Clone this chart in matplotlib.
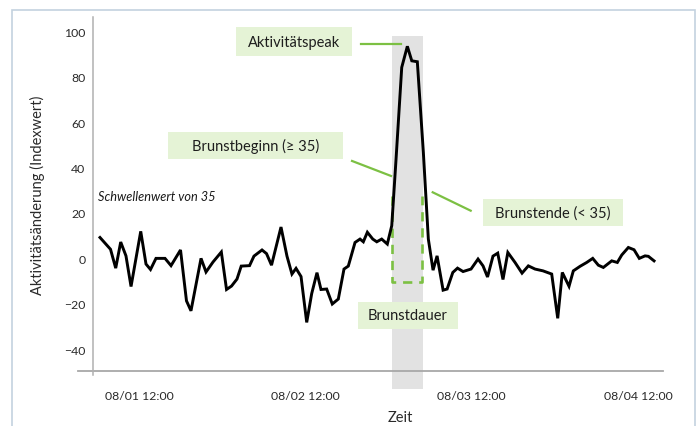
import matplotlib
matplotlib.use("Agg")
import matplotlib.pyplot as plt
from matplotlib.patches import Rectangle
from matplotlib.lines import Line2D

plt.rcParams['font.family'] = ['Lato', 'DejaVu Sans']

# Zeit in Stunden ab 08/01 00:00, Aktivitätsänderung (Indexwert)
hours = [6.37, 7.89, 8.64, 9.36, 10.12, 10.85, 12.25, 13.01, 13.66, 14.45, 15.75, 16.62,
         17.99, 18.85, 19.50, 20.95, 21.67, 22.68, 23.88, 24.63, 25.35, 26.14, 26.75, 27.95,
         28.59, 29.75, 30.40, 31.12, 32.49, 33.35, 34.07, 34.66, 35.38, 36.20, 36.92, 37.68,
         38.26, 39.08, 39.89, 40.76, 41.58, 42.20, 43.17, 43.89, 44.37, 44.95, 45.73, 46.31,
         47.02, 47.83, 48.47, 49.09, 49.91, 50.72, 51.36, 52.16, 53.03, 53.75, 54.43, 55.01,
         55.88, 56.46, 57.28, 57.96, 58.76, 59.91, 60.92, 61.64, 62.29, 63.08, 63.76, 64.52,
         65.22, 66.26, 67.27, 68.18, 69.14, 70.30, 71.55, 72.42, 73.08, 74.05, 74.67, 75.64,
         76.60, 77.47, 78.28, 79.00, 80.21, 81.02, 81.66, 82.61, 83.43, 84.19, 85.02, 85.50,
         86.32]
values = [9.2, 4.0, -4.3, 7.2, 1.1, -12.4, 11.9, -2.5, -4.9, 0.0, 0.0, -3.2,
          3.7, -18.7, -23.1, 0.0, -6.0, -1.6, 2.8, -13.7, -12.2, -9.1, -3.4, -3.2,
          1.0, 3.7, 2.1, -3.0, 13.8, 1.0, -6.9, -4.4, -8.0, -28.2, -15.5, -6.3,
          -13.7, -13.5, -20.1, -17.9, -4.7, -3.4, 7.0, 8.5, 7.3, 11.5, 8.5, 7.3,
          8.5, 6.3, 14.4, 43.7, 84.1, 93.4, 87.0, 86.6, 46.7, 8.5, -5.2, 1.1,
          -14.0, -13.5, -6.2, -4.3, -5.8, -4.7, -0.3, -3.3, -8.2, 1.0, 2.3, -9.3,
          2.6, -1.8, -6.5, -3.3, -4.7, -5.5, -6.9, -26.4, -6.2, -12.3, -5.5, -3.5,
          -1.8, 0.0, -3.0, -4.0, -1.1, -1.8, 1.5, 4.8, 3.8, 0.0, 1.1, 0.9,
          -1.1]

tick_hours = [12, 36, 60, 84]
tick_labels = ['08/01 12:00', '08/02 12:00', '08/03 12:00', '08/04 12:00']
y_ticks = [-40, -20, 0, 20, 40, 60, 80, 100]

# Brunst
brunst_start = 48.47
brunst_end = 53.03
schwelle = 27.5

green = '#7cc043'
boxcol = '#e5f3d6'
txtcol = '#1e1e1e'
axcol = '#2a2a2a'

W, H = 699, 427
fig = plt.figure(figsize=(W / 100, H / 100), dpi=100)

def fx(px):
    return px / W

def fy(py):
    return 1 - py / H

# Rahmen
fig.patches.append(Rectangle((fx(12), fy(440)), fx(695) - fx(12), fy(11) - fy(440),
                             transform=fig.transFigure, fill=False, ec='#c3d2df', lw=1.2))

ax = fig.add_axes([fx(92.5), fy(372), fx(663) - fx(92.5), fy(18) - fy(372)])
ax.set_xlim(5.29, 87.61)
ax.set_ylim(-49.6, 106.3)
for s in ax.spines.values():
    s.set_visible(False)

# Achsenlinien
ax.add_line(Line2D([-14.5 / 570.5, 1], [0, 0], transform=ax.transAxes, color='#a8a8a8',
                   lw=1.3, clip_on=False))
ax.add_line(Line2D([0, 0], [-4 / 354, 1], transform=ax.transAxes, color='#b0b0b0',
                   lw=1.1, clip_on=False))

# grauer Bereich
ax.add_patch(Rectangle((brunst_start, -57.5), brunst_end - brunst_start, 98.1 + 57.5,
                       fc='#e2e2e2', ec='none', clip_on=False, zorder=0))

ax.plot(hours, values, color='black', lw=2.1, zorder=3, solid_joinstyle='miter')

# gestrichelte Klammer
ax.plot([48.47, 48.47, 52.79, 52.79], [schwelle, -10.6, -10.6, schwelle], color=green,
        lw=1.9, ls=(0, (3.5, 2.6)), zorder=2)

# Verbindungslinien
ax.plot([44.03, 49.76], [94.3, 94.3], color=green, lw=1.6, zorder=2)
ax.plot([42.74, 48.36], [42.9, 36.3], color=green, lw=1.6, zorder=2)
ax.plot([54.38, 59.86], [29.1, 21.0], color=green, lw=1.6, zorder=2)

ax.set_xticks(tick_hours)
ax.set_xticklabels(tick_labels)
ax.set_yticks(y_ticks)
ax.tick_params(axis='x', length=0, pad=13.5, labelsize=8.8, labelcolor=axcol)
ax.tick_params(axis='y', length=0, pad=5, labelsize=8.8, labelcolor=axcol)

ax.set_ylabel('Aktivitätsänderung (Indexwert)', fontsize=10.5, color=axcol)
ax.yaxis.set_label_coords(-0.083, 0.5)
ax.set_xlabel('Zeit', fontsize=10.5, color=axcol)
ax.xaxis.set_label_coords(0.539, -0.111)

ax.text(6.08, 27.4, 'Schwellenwert von 35', style='italic', fontsize=9.2, color='#1a1a1a',
        ha='left', va='center')

# Beschriftungsboxen
boxes = [
    ('Aktivitätspeak', 236, 28, 352, 57),
    ('Brunstbeginn (≥ 35)', 168, 133, 343, 160),
    ('Brunstende (< 35)', 483, 200, 623, 227),
    ('Brunstdauer', 358, 303, 458, 330),
]
for label, x0, y0, x1, y1 in boxes:
    fig.patches.append(Rectangle((fx(x0), fy(y1)), fx(x1) - fx(x0), fy(y0) - fy(y1),
                                 transform=fig.transFigure, fc=boxcol, ec='none', zorder=1))
    fig.text(fx((x0 + x1) / 2), fy((y0 + y1) / 2), label, ha='center', va='center',
             fontsize=10.5, color=txtcol, zorder=5)

plt.savefig('out.png', dpi=100)
